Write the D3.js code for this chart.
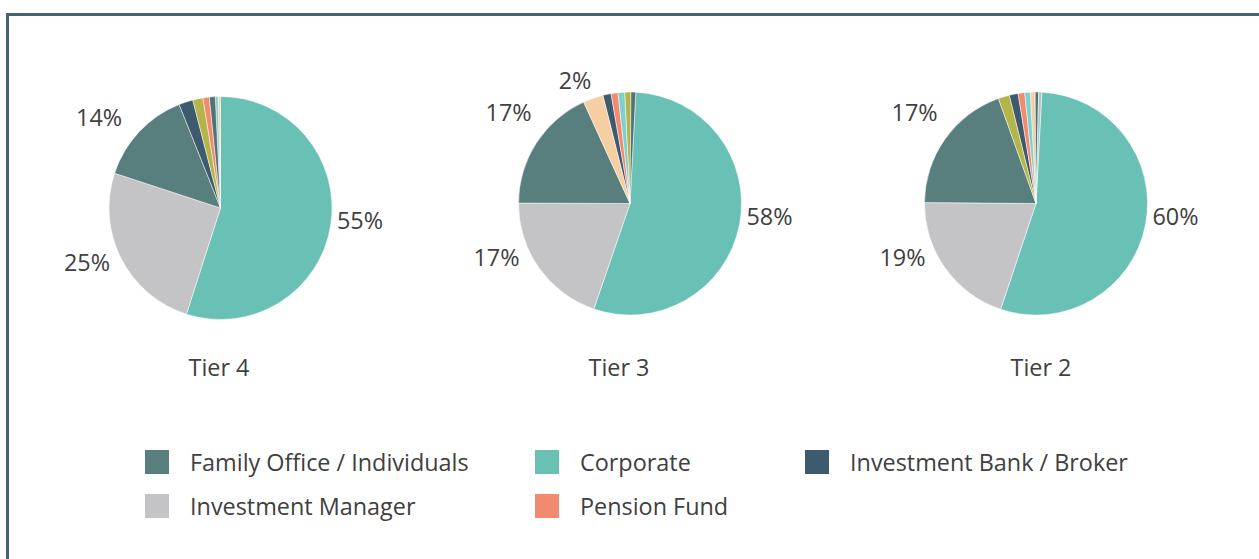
<!DOCTYPE html>
<html>
<head>
<meta charset="utf-8">
<script src="https://cdn.jsdelivr.net/npm/d3@7"></script>
<style>
  body { margin: 0; background: #fff; }
  svg text { font-family: "Open Sans", sans-serif; fill: #404040; }
</style>
</head>
<body>
<div id="chart"></div>
<script>
/* DATA */
const tiers = ["Tier 4", "Tier 3", "Tier 2"];

const categories = [
  "Corporate",
  "Investment Manager",
  "Family Office / Individuals",
  "Investment Bank / Broker",
  "Pension Fund",
  "Hedge Fund",
  "Private Bank",
  "Insurance",
  "Sovereign Wealth Fund",
  "Other"
];

// slice shares per tier, aligned with categories
const tier4Values = [54.95, 25.1, 13.9, 2.05, 0.95, 1.45, 0.35, 0.4, 0.85, 0];
const tier3Values = [54.4, 19.8, 18.1, 1.2, 1.0, 0.9, 2.9, 0.95, 0.7, 0];
const tier2Values = [54.3, 20.0, 19.4, 1.3, 0.95, 1.6, 0.7, 0.8, 0.5, 0.45];

// printed percentages (null = no label)
const tier4Labels = [55, 25, 14, null, null, null, null, null, null, null];
const tier3Labels = [58, 17, 17, null, null, null, 2, null, null, null];
const tier2Labels = [60, 19, 17, null, null, null, null, null, null, null];

const legendItems = [
  "Family Office / Individuals", "Corporate", "Investment Bank / Broker",
  "Investment Manager", "Pension Fund"
];

/* STYLE / LAYOUT */
const width = 1259, height = 559;
const radius = 111.5;
const fontSize = "23.4px";
const colors = ["#69c0b4", "#c4c3c6", "#587e7d", "#3d5a6e", "#f18b6f",
                "#b4b548", "#f5cfa2", "#7ed0d0", "#557174", "#a8c8c2"];
const pies = [
  { cx: 220.5, cy: 208, start: 0, titleX: 219 },
  { cx: 630, cy: 203.5, start: 3, titleX: 619 },
  { cx: 1036, cy: 203.5, start: 3, titleX: 1041 }
];
// where each category's label sits: angle (deg from 12 o'clock) and distance
const labelSpot = {
  0: [95, 140],
  1: [248, 144],
  2: [307, 152],
  6: [336, 135]
};

const color = d3.scaleOrdinal().domain(categories).range(colors);

const svg = d3.select("#chart")
  .append("svg")
  .attr("width", width)
  .attr("height", height);

// frame
svg.append("rect")
  .attr("x", 7.5).attr("y", 14.5)
  .attr("width", 1300).attr("height", 600)
  .attr("fill", "none")
  .attr("stroke", "#476274")
  .attr("stroke-width", 3);

const allValues = [tier4Values, tier3Values, tier2Values];
const allLabels = [tier4Labels, tier3Labels, tier2Labels];

const arc = d3.arc().innerRadius(0).outerRadius(radius);

tiers.forEach((tier, t) => {
  const p = pies[t];
  const rows = categories.map((c, i) => ({ cat: c, i, value: allValues[t][i], pct: allLabels[t][i] }));
  const rad = p.start * Math.PI / 180;
  const pie = d3.pie()
    .value(d => d.value)
    .sort((a, b) => b.value - a.value)
    .startAngle(rad)
    .endAngle(rad + 2 * Math.PI);

  const g = svg.append("g").attr("transform", `translate(${p.cx},${p.cy})`);

  g.selectAll("path")
    .data(pie(rows.filter(d => d.value > 0)))
    .join("path")
    .attr("d", arc)
    .attr("fill", d => color(d.data.cat))
    .attr("stroke", "#fff")
    .attr("stroke-width", 0.5);

  g.selectAll("text.pct")
    .data(rows.filter(d => d.pct != null))
    .join("text")
    .attr("class", "pct")
    .attr("x", d => Math.sin(labelSpot[d.i][0] * Math.PI / 180) * labelSpot[d.i][1])
    .attr("y", d => -Math.cos(labelSpot[d.i][0] * Math.PI / 180) * labelSpot[d.i][1])
    .attr("text-anchor", "middle")
    .attr("dominant-baseline", "central")
    .style("font-size", fontSize)
    .text(d => d.pct + "%");

  svg.append("text")
    .attr("x", p.titleX)
    .attr("y", 367)
    .attr("text-anchor", "middle")
    .attr("dominant-baseline", "central")
    .style("font-size", fontSize)
    .text(tier);
});

// legend
const legendCols = [145, 535, 805];
const legend = svg.selectAll("g.legend")
  .data(legendItems)
  .join("g")
  .attr("class", "legend")
  .attr("transform", (d, i) => `translate(${legendCols[i % 3]},${462 + Math.floor(i / 3) * 44})`);

legend.append("rect")
  .attr("x", 0).attr("y", -12)
  .attr("width", 24).attr("height", 24)
  .attr("fill", d => color(d));

legend.append("text")
  .attr("x", 45)
  .attr("dominant-baseline", "central")
  .style("font-size", fontSize)
  .text(d => d);
</script>
</body>
</html>
